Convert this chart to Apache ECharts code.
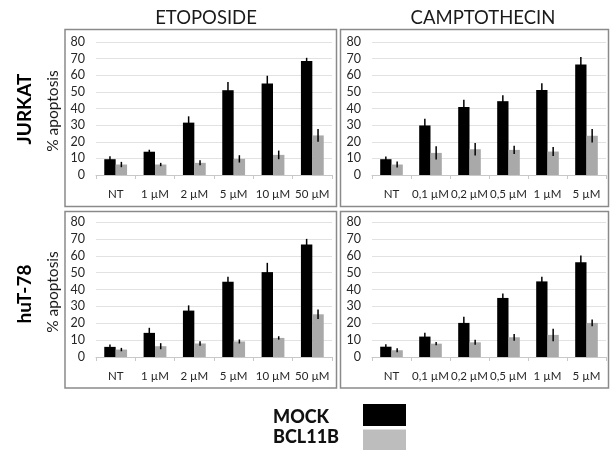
<!DOCTYPE html>
<html><head><meta charset="utf-8">
<script src="https://cdn.jsdelivr.net/npm/echarts@6/dist/echarts.min.js"></script>
<style>html,body{margin:0;padding:0;background:#fff}#c{width:611px;height:450px}</style>
</head><body><div id="c"></div>
<script>
// ---- data ----
const categoriesEto = ['NT', '1 µM', '2 µM', '5 µM', '10 µM', '50 µM'];
const categoriesCpt = ['NT', '0,1 µM', '0,2 µM', '0,5 µM', '1 µM', '5 µM'];
const seriesNames = ['MOCK', 'BCL11B'];
const panelTitles = ['ETOPOSIDE', 'CAMPTOTHECIN'];
const rowLabels = ['JURKAT', 'huT-78'];
const yAxisName = '% apoptosis';
const yTicks = [0, 10, 20, 30, 40, 50, 60, 70, 80];

const jurkatEtoMock = [9.5, 14, 31.5, 51, 55, 68.5];
const jurkatEtoMockErr = [1.8, 1.2, 3.8, 5, 4.7, 2];
const jurkatEtoBcl = [6.3, 6.3, 7.3, 9.7, 12.1, 23.8];
const jurkatEtoBclErr = [1.6, 1, 1.5, 2.2, 2.6, 3.8];

const jurkatCptMock = [9.5, 29.8, 40.9, 44.4, 51.2, 66.5];
const jurkatCptMockErr = [1.6, 4, 4.3, 3.6, 4, 4.5];
const jurkatCptBcl = [6.3, 13.3, 15.5, 15.1, 14.1, 23.6];
const jurkatCptBclErr = [1.8, 4, 3.8, 2.5, 2.7, 4];

const hutEtoMock = [6.0, 14.3, 27.5, 44.6, 50.3, 66.7];
const hutEtoMockErr = [1.4, 3, 3.1, 3, 5.5, 3.3];
const hutEtoBcl = [4.4, 6.4, 8, 9.2, 11.3, 25.3];
const hutEtoBclErr = [1, 1.8, 1.3, 1.2, 1, 2.8];

const hutCptMock = [6.1, 12.1, 20.2, 35.0, 44.8, 56.2];
const hutCptMockErr = [1.4, 2.2, 3.6, 2.6, 2.7, 4];
const hutCptBcl = [4.0, 7.9, 8.7, 11.7, 13.1, 20.2];
const hutCptBclErr = [1.2, 1, 1.5, 2, 3.7, 2];

// ---- layout ----
const FONT = 'Lato, "Open Sans", sans-serif';
const colors = ['#000000', '#a9a9a9'];
const legendColors = ['#000000', '#bdbdbd'];
const gapFrac = 0.42;

const panels = [
  { cats: categoriesEto, mock: jurkatEtoMock, mockErr: jurkatEtoMockErr, bcl: jurkatEtoBcl, bclErr: jurkatEtoBclErr,
    grid: { left: 96, width: 236, top: 42, height: 133 } },
  { cats: categoriesCpt, mock: jurkatCptMock, mockErr: jurkatCptMockErr, bcl: jurkatCptBcl, bclErr: jurkatCptBclErr,
    grid: { left: 372, width: 234, top: 42, height: 133 } },
  { cats: categoriesEto, mock: hutEtoMock, mockErr: hutEtoMockErr, bcl: hutEtoBcl, bclErr: hutEtoBclErr,
    grid: { left: 96, width: 236, top: 222, height: 135 } },
  { cats: categoriesCpt, mock: hutCptMock, mockErr: hutCptMockErr, bcl: hutCptBcl, bclErr: hutCptBclErr,
    grid: { left: 372, width: 234, top: 222, height: 135 } }
];

const grids = [], xAxes = [], yAxes = [], series = [];
panels.forEach((p, i) => {
  grids.push(Object.assign({ containLabel: false }, p.grid));
  xAxes.push({
    type: 'category', gridIndex: i, data: p.cats,
    axisLine: { lineStyle: { color: '#c8c8c8', width: 1 } },
    axisTick: { show: true, length: 4, lineStyle: { color: '#c8c8c8' } },
    axisLabel: { interval: 0, margin: 13, fontSize: 11.5, color: '#262626', fontFamily: FONT },
    splitLine: { show: false }
  });
  yAxes.push({
    type: 'value', gridIndex: i, min: yTicks[0], max: yTicks[yTicks.length - 1], interval: 10,
    axisLine: { show: false }, axisTick: { show: false },
    axisLabel: { margin: 11, fontSize: 12.5, color: '#262626', fontFamily: FONT },
    splitLine: { lineStyle: { color: '#e2e2e2', width: 1 } }
  });
  const vals = [p.mock, p.bcl], errs = [p.mockErr, p.bclErr];
  vals.forEach((v, s) => {
    series.push({
      type: 'bar', name: seriesNames[s], xAxisIndex: i, yAxisIndex: i, data: v,
      barGap: '0%', barCategoryGap: (gapFrac * 100) + '%',
      itemStyle: { color: colors[s] }, silent: true, animation: false
    });
  });
  vals.forEach((v, s) => {
    series.push({
      type: 'custom', xAxisIndex: i, yAxisIndex: i, z: 5, silent: true, animation: false,
      data: v.map((val, k) => [k, val, errs[s][k]]),
      renderItem: function (params, api) {
        const x = api.value(0), val = api.value(1), e = api.value(2);
        const band = api.size([1, 0])[0];
        const bw = band * (1 - gapFrac) / 2;
        const off = (s === 0 ? -1 : 1) * bw / 2;
        const lo = api.coord([x, val - e]);
        const hi = api.coord([x, val + e]);
        return {
          type: 'line',
          shape: { x1: lo[0] + off, y1: lo[1], x2: hi[0] + off, y2: hi[1] },
          style: { stroke: '#000', lineWidth: 1.5 }
        };
      }
    });
  });
});

const graphics = [];
// panel borders
[[65, 29.5, 271.5, 177], [340.5, 29.5, 268, 177], [65, 211.5, 271.5, 176.5], [340.5, 211.5, 268, 176.5]].forEach(r => {
  graphics.push({ type: 'rect', shape: { x: r[0], y: r[1], width: r[2], height: r[3] },
    style: { fill: 'none', stroke: '#8a8a8a', lineWidth: 1.5 }, silent: true });
});
// column titles
graphics.push({ type: 'text', x: 206, y: 18, style: { text: panelTitles[0], font: '18.5px ' + FONT, fill: '#1a1a1a', align: 'center', verticalAlign: 'middle' } });
graphics.push({ type: 'text', x: 483, y: 18, style: { text: panelTitles[1], font: '18.5px ' + FONT, fill: '#1a1a1a', align: 'center', verticalAlign: 'middle' } });
// row labels
[[109, 111], [294, 292]].forEach((yy, r) => {
  graphics.push({ type: 'text', x: 25, y: yy[0], rotation: Math.PI / 2,
    style: { text: rowLabels[r], font: 'bold 19px ' + FONT, fill: '#000', align: 'center', verticalAlign: 'middle' } });
  graphics.push({ type: 'text', x: 53, y: yy[1], rotation: Math.PI / 2,
    style: { text: yAxisName, font: '15.5px ' + FONT, fill: '#1a1a1a', align: 'center', verticalAlign: 'middle' } });
});
// legend
[[417, 404, 22], [437, 429.5, 21]].forEach((l, s) => {
  graphics.push({ type: 'text', x: 273, y: l[0],
    style: { text: seriesNames[s], font: '900 18px ' + FONT, fill: '#111', align: 'left', verticalAlign: 'middle' } });
  graphics.push({ type: 'rect', shape: { x: 363, y: l[1], width: 43, height: l[2] },
    style: { fill: legendColors[s] }, silent: true });
});

const chart = echarts.init(document.getElementById('c'), null, { renderer: 'canvas' });
chart.setOption({
  animation: false,
  textStyle: { fontFamily: FONT },
  grid: grids, xAxis: xAxes, yAxis: yAxes, series: series,
  graphic: graphics
});
</script>
</body></html>
